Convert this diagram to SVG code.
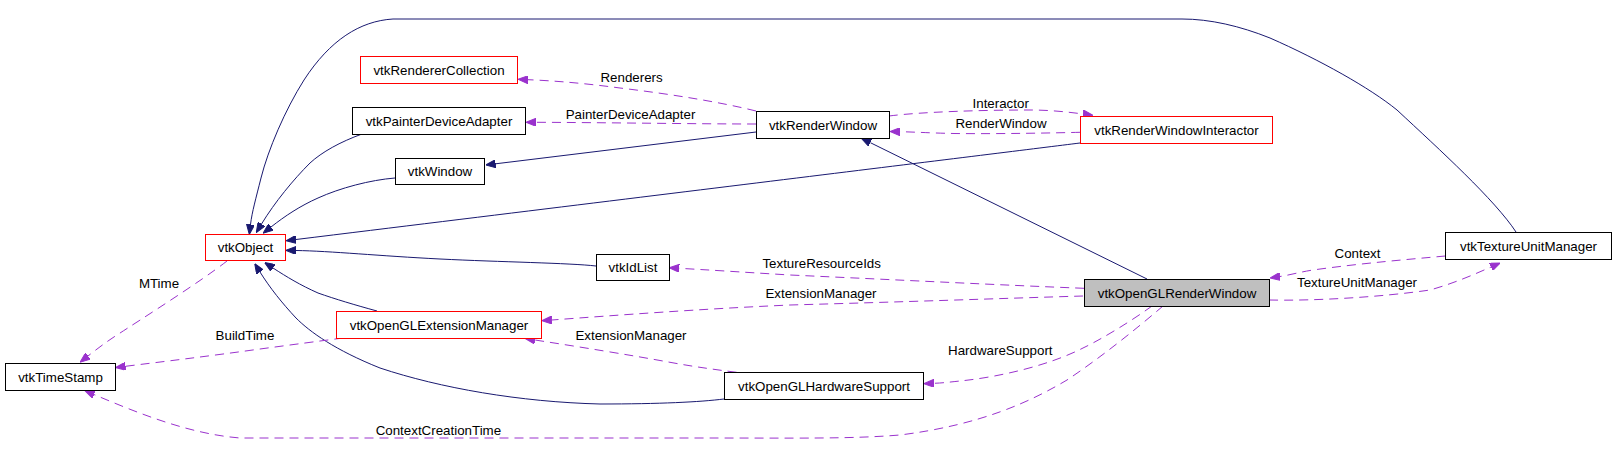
<svg xmlns="http://www.w3.org/2000/svg" width="1616" height="467" viewBox="0 0 1616 467">
<style>
text{font-family:"Liberation Sans",Arial,sans-serif;font-size:13.33px;fill:#000;text-anchor:middle}
.n rect{fill:#fff;stroke:#000;stroke-width:1}
.n.red rect{stroke:#ff0000}
.n.cur rect{fill:#bfbfbf}
.inh{fill:none;stroke:#191970;stroke-width:1;marker-end:url(#an)}
.use{fill:none;stroke:#9a32cd;stroke-width:1;stroke-dasharray:9,6;marker-end:url(#ap)}
</style>
<defs>
<marker id="an" viewBox="0 0 10 8" refX="0" refY="4" markerWidth="10" markerHeight="8" markerUnits="userSpaceOnUse" orient="auto"><path d="M0,0 L10,4 L0,8 z" fill="#191970" stroke="#191970"/></marker>
<marker id="ap" viewBox="0 0 10 8" refX="0" refY="4" markerWidth="10" markerHeight="8" markerUnits="userSpaceOnUse" orient="auto"><path d="M0,0 L10,4 L0,8 z" fill="#9a32cd" stroke="#9a32cd"/></marker>
</defs>
<rect width="1616" height="467" fill="#fff"/>
<g id="connectors">
<path class="inh" d="M1516,232 C1495,200 1440,150 1397,110 C1370,88 1320,60 1270,38 C1240,26 1210,19 1182,19 L393,19 C360,21 330,40 304,80 C285,110 268,150 261,178 C256,198 252,212 250.5,224.5"/>
<path class="inh" d="M362,134 C340,142 322,152 310,163 C293,180 275,202 261.5,224"/>
<path class="inh" d="M395,178 C370,180 340,188 318,198 C300,206 285,216 271,227"/>
<path class="inh" d="M1080,143 C1000,153 700,190 296,239.5"/>
<path class="inh" d="M596,266 C570,263 500,262 440,259 C380,256 330,251 296,250.5"/>
<path class="inh" d="M377,311 C355,305 335,299 318,293 C300,285 287,277 273,268"/>
<path class="inh" d="M724,399 C700,402 660,404 600,404 C520,402 440,388 380,368 C335,350 310,332 296,318 C282,303 270,288 260,272"/>
<path class="inh" d="M756,132 L495.6,163.8"/>
<path class="inh" d="M1147,279 L870.4,142.7"/>

<path class="use" d="M756,111 C720,102 670,94 620,88 C590,84 560,81 528,79.7"/>
<text x="631.6" y="82">Renderers</text>
<path class="use" d="M756,124 C700,124 600,122.5 536,122.3"/>
<text x="630.5" y="119">PainterDeviceAdapter</text>
<path class="use" d="M889,116 C920,112 980,110 1030,110 C1050,110 1068,112 1083,114"/>
<text x="1000.7" y="108">Interactor</text>
<path class="use" d="M1080,132.3 C1050,133 1000,134 954,133.5 C930,133 915,132 900,131.7"/>
<text x="1001" y="128">RenderWindow</text>
<path class="use" d="M227,261 C200,282 140,320 117,335 C106,342 97,349 88,356"/>
<text x="159" y="287.5">MTime</text>
<path class="use" d="M343,338 C320,341 290,345 260,349 C210,356 160,362 125.5,366.3"/>
<text x="245" y="340">BuildTime</text>
<path class="use" d="M1163,306 C1135,330 1100,358 1067,380 C1030,402 980,425 900,435 C850,439 800,438 700,438 L240,438 C190,434 140,414 94,394.5"/>
<text x="438.4" y="434.5">ContextCreationTime</text>
<path class="use" d="M1084,288.3 C1000,285 900,280 790,275 C740,272 710,270 679.3,268.3"/>
<text x="821.7" y="268">TextureResourceIds</text>
<path class="use" d="M1083,296 C1000,298.5 900,302 790,305 C700,309 620,315 551.8,320"/>
<text x="821" y="298">ExtensionManager</text>
<path class="use" d="M736.7,372.3 C710,369 690,366 666.7,361.7 C630,355 580,347 535,340"/>
<text x="631" y="340">ExtensionManager</text>
<path class="use" d="M1152,306 C1130,322 1100,340 1083,348 C1050,365 1000,377 960,381 C950,382 943,383 934,383.3"/>
<text x="1000.3" y="355">HardwareSupport</text>
<path class="use" d="M1445.3,256 C1413,259 1363,263 1313,270 C1300,272 1290,275 1280,276.5"/>
<text x="1357.5" y="257.5">Context</text>
<path class="use" d="M1269.3,300 C1313,301 1380,297.3 1430,290 C1455,283 1475,274 1491,267"/>
<text x="1357" y="287">TextureUnitManager</text>
</g>
<g id="vtkRendererCollection" class="n red"><rect x="360.5" y="56.5" width="157" height="27"/><text x="439" y="74.5">vtkRendererCollection</text></g>
<g id="vtkPainterDeviceAdapter" class="n"><rect x="352.5" y="107.5" width="173" height="27"/><text x="439" y="125.5">vtkPainterDeviceAdapter</text></g>
<g id="vtkWindow" class="n"><rect x="395.5" y="158.5" width="89" height="26"/><text x="440" y="176">vtkWindow</text></g>
<g id="vtkObject" class="n red"><rect x="205.5" y="234.5" width="80" height="26"/><text x="245.5" y="252">vtkObject</text></g>
<g id="vtkRenderWindow" class="n"><rect x="756.5" y="111.5" width="133" height="27"/><text x="823" y="129.5">vtkRenderWindow</text></g>
<g id="vtkRenderWindowInteractor" class="n red"><rect x="1080.5" y="116.5" width="192" height="27"/><text x="1176.5" y="134.5">vtkRenderWindowInteractor</text></g>
<g id="vtkTextureUnitManager" class="n"><rect x="1445.5" y="232.5" width="166" height="27"/><text x="1528.5" y="250.5">vtkTextureUnitManager</text></g>
<g id="vtkOpenGLRenderWindow" class="n cur"><rect x="1084.5" y="279.5" width="185" height="27"/><text x="1177" y="297.5">vtkOpenGLRenderWindow</text></g>
<g id="vtkTimeStamp" class="n"><rect x="5.5" y="363.5" width="110" height="27"/><text x="60.5" y="381.5">vtkTimeStamp</text></g>
<g id="vtkOpenGLExtensionManager" class="n red"><rect x="336.5" y="311.5" width="205" height="27"/><text x="439" y="329.5">vtkOpenGLExtensionManager</text></g>
<g id="vtkIdList" class="n"><rect x="596.5" y="254.5" width="73" height="26"/><text x="633" y="272">vtkIdList</text></g>
<g id="vtkOpenGLHardwareSupport" class="n"><rect x="724.5" y="372.5" width="199" height="27"/><text x="824" y="390.5">vtkOpenGLHardwareSupport</text></g>
</svg>
